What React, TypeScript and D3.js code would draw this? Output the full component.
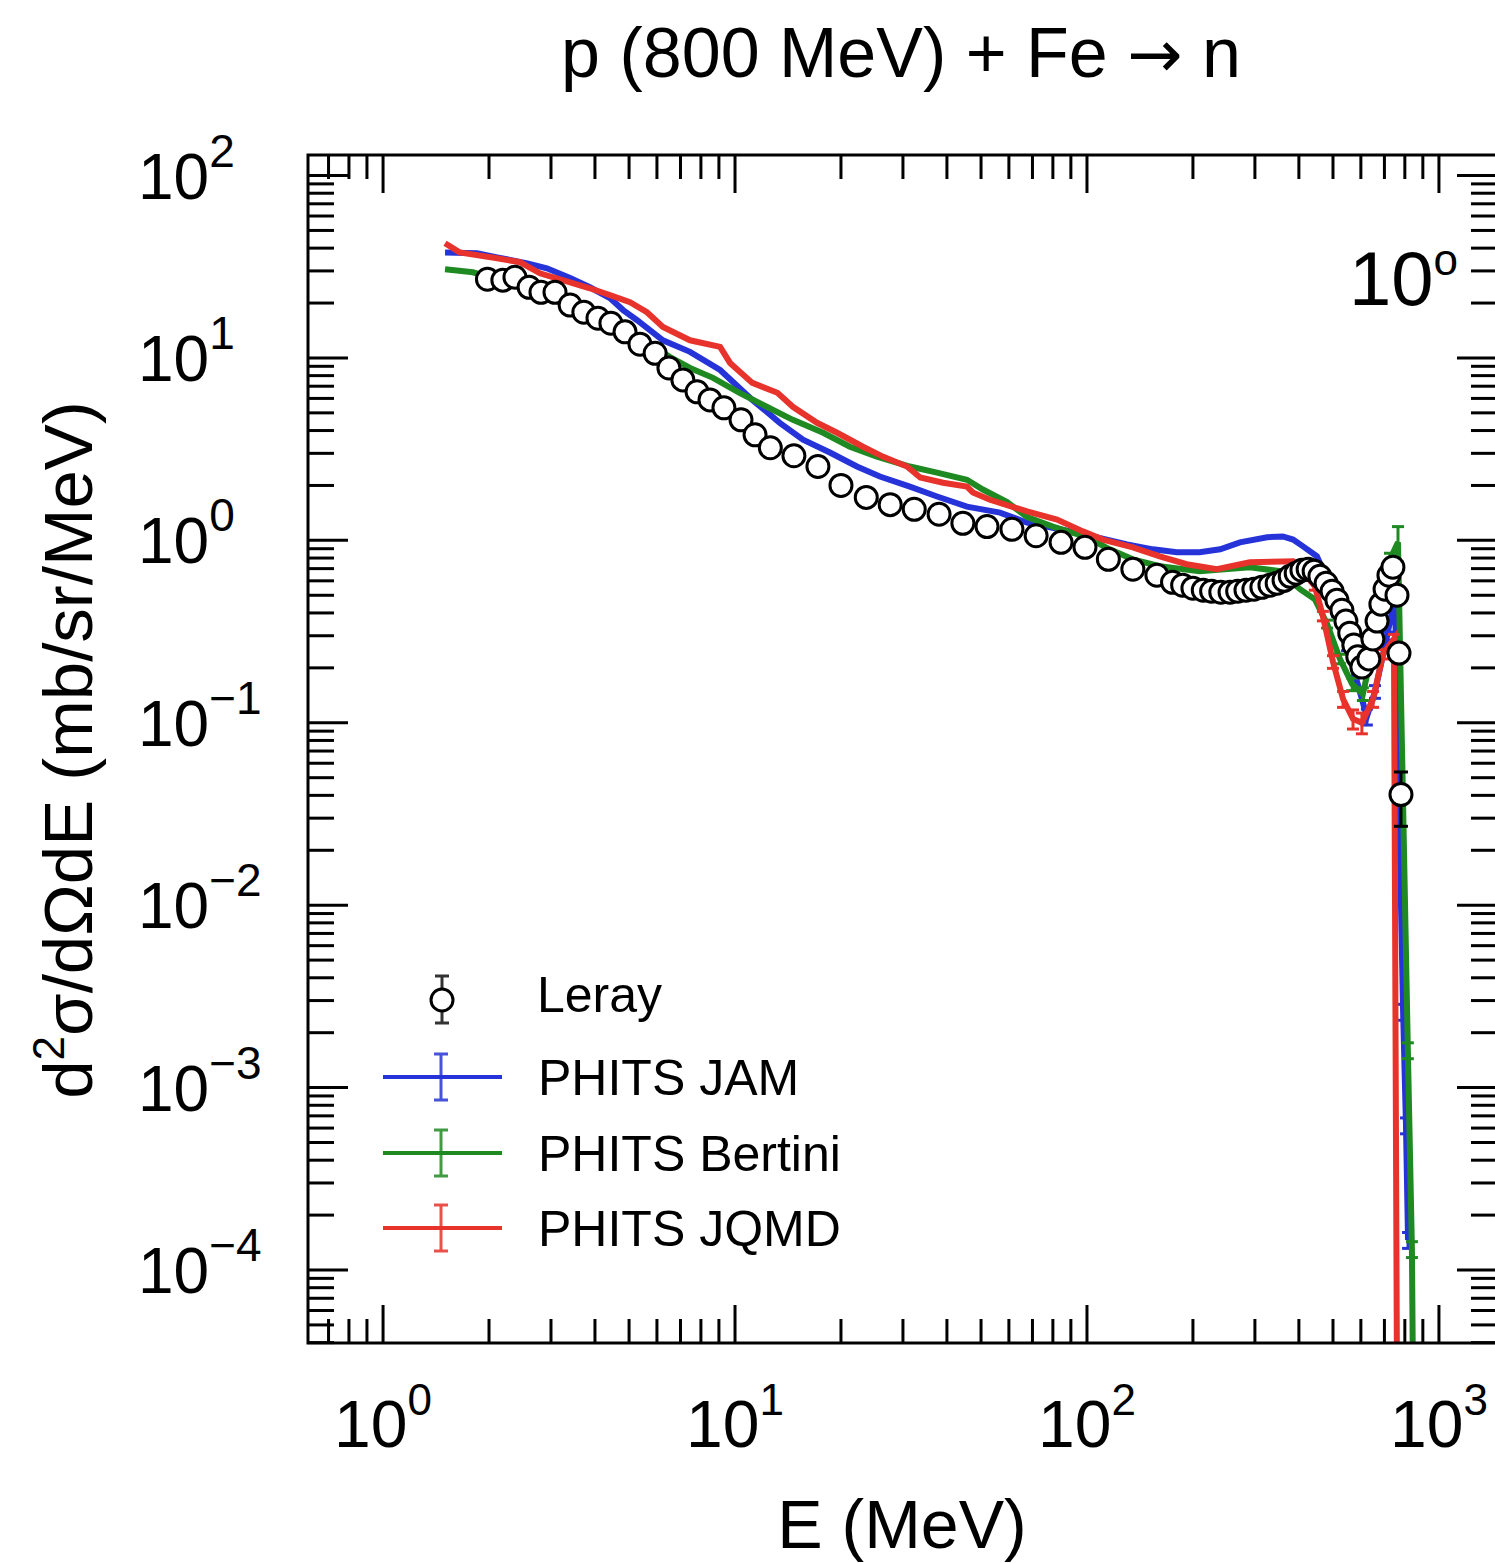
import React from "react";
import * as d3 from "d3";

// Leray data: [E (MeV), d2sigma/dOmega dE (mb/sr/MeV), relative error]
const leray: [number, number, number][] = [
  [1.98, 27.0, 0.05], [2.19, 26.7, 0.05], [2.37, 27.7, 0.05], [2.6, 24.4, 0.05],
  [2.81, 22.9, 0.05], [3.08, 22.9, 0.05], [3.4, 19.5, 0.05], [3.72, 17.8, 0.05],
  [4.08, 16.5, 0.05], [4.44, 15.5, 0.05], [4.87, 13.9, 0.05], [5.37, 11.9, 0.05],
  [5.93, 10.6, 0.05], [6.49, 8.81, 0.05], [7.11, 7.58, 0.05], [7.8, 6.52, 0.05],
  [8.49, 5.89, 0.05], [9.3, 5.33, 0.05], [10.4, 4.58, 0.05], [11.4, 3.79, 0.05],
  [12.6, 3.22, 0.05], [14.7, 2.91, 0.05], [17.2, 2.54, 0.05], [20.0, 2.0, 0.05],
  [23.6, 1.72, 0.05], [27.6, 1.57, 0.05], [32.3, 1.48, 0.05], [38.0, 1.39, 0.05],
  [44.4, 1.24, 0.05], [52.0, 1.19, 0.05], [61.2, 1.15, 0.05], [71.7, 1.06, 0.05],
  [84.4, 0.975, 0.05], [98.7, 0.916, 0.05], [115, 0.787, 0.05], [135, 0.695, 0.05],
  [158, 0.644, 0.05], [175, 0.589, 0.05], [187, 0.568, 0.05], [200, 0.547, 0.05],
  [214, 0.533, 0.05], [226, 0.526, 0.05], [240, 0.52, 0.05], [255, 0.52, 0.05],
  [268, 0.526, 0.05], [283, 0.533, 0.05], [298, 0.54, 0.05], [314, 0.553, 0.05],
  [331, 0.568, 0.05], [347, 0.582, 0.05], [363, 0.604, 0.05], [378, 0.635, 0.05],
  [393, 0.66, 0.05], [408, 0.686, 0.05], [425, 0.695, 0.05], [442, 0.678, 0.05],
  [459, 0.635, 0.05], [478, 0.582, 0.05], [497, 0.526, 0.05], [513, 0.47, 0.05],
  [530, 0.414, 0.05], [544, 0.361, 0.05], [558, 0.31, 0.05], [573, 0.267, 0.05],
  [588, 0.23, 0.05], [604, 0.202, 0.05], [632, 0.224, 0.05], [649, 0.288, 0.05],
  [667, 0.361, 0.05], [684, 0.447, 0.05], [703, 0.54, 0.05], [721, 0.644, 0.05],
  [740, 0.712, 0.05], [760, 0.5, 0.05], [770, 0.241, 0.06], [780, 0.0404, 0.33],
];

// PHITS JAM: [E, value, relative error]
const jam: [number, number, number][] = [
  [1.5, 37.9, 0.02], [1.85, 37.5, 0.02], [2.11, 35.6, 0.02], [2.57, 33.0, 0.02],
  [2.92, 31.0, 0.02], [3.4, 27.4, 0.02], [3.87, 24.4, 0.02], [4.41, 21.3, 0.02],
  [4.81, 18.3, 0.02], [5.27, 16.1, 0.02], [6.24, 12.5, 0.02], [7.45, 10.8, 0.02],
  [9.07, 8.59, 0.02], [11.2, 5.89, 0.02], [13.4, 4.41, 0.02], [15.6, 3.56, 0.02],
  [18.6, 3.03, 0.02], [22.2, 2.54, 0.02], [25.8, 2.24, 0.02], [31.4, 1.97, 0.02],
  [37.5, 1.74, 0.02], [45.6, 1.53, 0.02], [56.6, 1.42, 0.02], [67.6, 1.25, 0.02],
  [83.8, 1.15, 0.02], [104, 1.05, 0.02], [130, 0.951, 0.02], [154, 0.893, 0.02],
  [180, 0.86, 0.02], [209, 0.86, 0.02], [239, 0.893, 0.02], [272, 0.975, 0.02],
  [325, 1.04, 0.02], [360, 1.05, 0.02], [385, 1.01, 0.02], [411, 0.927, 0.03],
  [450, 0.818, 0.03], [481, 0.612, 0.04], [513, 0.404, 0.05], [548, 0.264, 0.06],
  [585, 0.168, 0.08], [624, 0.108, 0.1], [658, 0.148, 0.08], [712, 0.299, 0.05],
  [750, 0.489, 0.05], [791, 0.0026, 0.1], [806, 0.00062, 0.1], [817, 0.000146, 0.1],
];

// PHITS Bertini
const bertini: [number, number, number][] = [
  [1.5, 30.6, 0.02], [1.8, 29.5, 0.02], [2.15, 26.7, 0.02], [2.61, 24.1, 0.02],
  [3.4, 20.8, 0.02], [4.13, 17.8, 0.02], [4.93, 13.4, 0.02], [5.62, 12.1, 0.02],
  [6.54, 10.1, 0.02], [7.45, 8.81, 0.02], [8.66, 7.78, 0.02], [10.3, 6.44, 0.02],
  [12.3, 5.4, 0.02], [14.6, 4.58, 0.02], [17.8, 3.89, 0.02], [21.2, 3.26, 0.02],
  [25.3, 2.88, 0.02], [31.4, 2.54, 0.02], [37.5, 2.35, 0.02], [45.6, 2.15, 0.02],
  [50.6, 1.9, 0.02], [59.3, 1.62, 0.02], [67.6, 1.34, 0.02], [80.0, 1.19, 0.02],
  [100, 1.04, 0.02], [116, 0.893, 0.02], [135, 0.787, 0.02], [161, 0.721, 0.02],
  [209, 0.678, 0.02], [290, 0.712, 0.02], [353, 0.678, 0.03], [403, 0.54, 0.03],
  [444, 0.476, 0.04], [481, 0.348, 0.05], [523, 0.224, 0.06], [567, 0.163, 0.08],
  [608, 0.144, 0.08], [658, 0.288, 0.06], [726, 0.787, 0.08], [765, 0.975, 0.22],
  [816, 0.0016, 0.1], [838, 0.00013, 0.1], [855, 0.000001, 0],
];

// PHITS JQMD
const jqmd: [number, number, number][] = [
  [1.5, 42.5, 0.03], [1.65, 37.9, 0.03], [2.11, 35.2, 0.03], [2.45, 33.5, 0.03],
  [2.79, 29.1, 0.03], [3.4, 26.0, 0.03], [3.87, 24.1, 0.03], [4.41, 22.1, 0.03],
  [5.03, 20.2, 0.03], [5.62, 17.8, 0.03], [6.24, 14.8, 0.03], [7.45, 12.5, 0.03],
  [9.07, 11.5, 0.03], [9.68, 9.39, 0.03], [11.2, 7.3, 0.03], [13.2, 6.44, 0.03],
  [14.6, 5.4, 0.03], [17.1, 4.41, 0.03], [19.5, 3.89, 0.03], [23.1, 3.26, 0.03],
  [26.3, 2.88, 0.03], [30.8, 2.54, 0.03], [33.6, 2.21, 0.03], [39.0, 2.07, 0.03],
  [45.6, 1.97, 0.03], [47.4, 1.83, 0.03], [53.0, 1.67, 0.03], [67.6, 1.44, 0.03],
  [82.2, 1.3, 0.03], [97.4, 1.12, 0.03], [111, 1.01, 0.03], [135, 0.916, 0.03],
  [161, 0.818, 0.03], [192, 0.74, 0.03], [234, 0.695, 0.03], [290, 0.759, 0.03],
  [385, 0.768, 0.03], [421, 0.635, 0.04], [444, 0.561, 0.05], [468, 0.385, 0.06],
  [500, 0.216, 0.08], [534, 0.135, 0.1], [570, 0.105, 0.12], [604, 0.1, 0.13],
  [650, 0.135, 0.1], [694, 0.238, 0.06], [745, 0.288, 0.06], [765, 0.000001, 0],
];

const xMajorTicks = [1, 10, 100, 1000];
const xTickExponents = ["0", "1", "2", "3"];
const yMajorTicks = [1e-4, 1e-3, 1e-2, 1e-1, 1, 10, 100];
const yTickExponents = ["\u22124", "\u22123", "\u22122", "\u22121", "0", "1", "2"];

const series = [
  { name: "PHITS JAM", data: jam, color: "#2633d9" },
  { name: "PHITS Bertini", data: bertini, color: "#1f8a22" },
  { name: "PHITS JQMD", data: jqmd, color: "#e8332c" },
];

const W = 1495;
const H = 1563;
const left = 308, right = 1497, top = 155, bottom = 1343;
const font = "'Liberation Sans', Arial, Helvetica, sans-serif";

export default function App() {
  const x = d3.scaleLog().domain([0.612, 1462]).range([left, right]);
  const y = d3.scaleLog().domain([3.98e-5, 129.6]).range([bottom, top]);

  const line = d3
    .line<[number, number, number]>()
    .x((d) => x(d[0]))
    .y((d) => y(Math.max(d[1], 1e-7)));

  // minor ticks
  const xMinor: number[] = [];
  const yMinor: number[] = [];
  for (let k = -1; k <= 3; k++) {
    for (let m = 2; m <= 9; m++) {
      const v = m * Math.pow(10, k);
      if (v > 0.612 && v < 1462) xMinor.push(v);
    }
  }
  for (let k = -5; k <= 2; k++) {
    for (let m = 2; m <= 9; m++) {
      const v = m * Math.pow(10, k);
      if (v > 3.98e-5 && v < 129.6) yMinor.push(v);
    }
  }
  const maj = 38, min = 24;

  const errBar = (d: [number, number, number], color: string, key: string, cap: number, minErr: number) => {
    if (!d[2] || d[2] < minErr) return null;
    const cx = x(d[0]);
    const y1 = y(d[1] * (1 + d[2]));
    const y2 = y(Math.max(d[1] * (1 - d[2]), 1e-7));
    return (
      <g key={key} stroke={color} strokeWidth={3}>
        <line x1={cx} x2={cx} y1={y1} y2={y2} />
        <line x1={cx - cap} x2={cx + cap} y1={y1} y2={y1} />
        <line x1={cx - cap} x2={cx + cap} y1={y2} y2={y2} />
      </g>
    );
  };

  const legendRows = [
    { label: "PHITS JAM", color: series[0].color, ly: 1077 },
    { label: "PHITS Bertini", color: series[1].color, ly: 1153 },
    { label: "PHITS JQMD", color: series[2].color, ly: 1228 },
  ];

  return (
    <svg width={W} height={H} style={{ position: "absolute", left: 0, top: 0, background: "#fff" }} fontFamily={font}>
      <defs>
        <clipPath id="plotclip">
          <rect x={left} y={top} width={right - left} height={bottom - top} />
        </clipPath>
      </defs>
      <rect x={0} y={0} width={W} height={H} fill="#fff" />

      {/* title */}
      <text x={901} y={77} fontSize={70} textAnchor="middle">
        p (800 MeV) + Fe <tspan fontFamily="'DejaVu Sans', sans-serif" fontSize={66}>{"\u2192"}</tspan> n
      </text>

      {/* simulation curves */}
      <g clipPath="url(#plotclip)">
        {series.map((s) => (
          <g key={s.name}>
            <path d={line(s.data) || ""} fill="none" stroke={s.color} strokeWidth={6} strokeLinejoin="miter" />
            {s.data.map((d, i) => errBar(d, s.color, s.name + i, 6, 0.05))}
          </g>
        ))}
        {/* Leray data */}
        {leray.map((d, i) => errBar(d, "#000", "le" + i, 7, 0.05))}
        {leray.map((d, i) => (
          <circle key={"lc" + i} cx={x(d[0])} cy={y(d[1])} r={11} fill="#fff" stroke="#000" strokeWidth={3} />
        ))}
      </g>

      {/* frame */}
      <rect x={left} y={top} width={right - left} height={bottom - top} fill="none" stroke="#000" strokeWidth={3} />

      {/* ticks */}
      <g stroke="#000" strokeWidth={3}>
        {xMajorTicks.map((v) => (
          <g key={"xM" + v}>
            <line x1={x(v)} x2={x(v)} y1={bottom} y2={bottom - maj} />
            <line x1={x(v)} x2={x(v)} y1={top} y2={top + maj} />
          </g>
        ))}
        {xMinor.map((v) => (
          <g key={"xm" + v}>
            <line x1={x(v)} x2={x(v)} y1={bottom} y2={bottom - min} />
            <line x1={x(v)} x2={x(v)} y1={top} y2={top + min} />
          </g>
        ))}
        {yMajorTicks.map((v) => (
          <g key={"yM" + v}>
            <line x1={left} x2={left + maj + 2} y1={y(v)} y2={y(v)} />
            <line x1={right} x2={right - maj - 2} y1={y(v)} y2={y(v)} />
          </g>
        ))}
        {yMinor.map((v) => (
          <g key={"ym" + v}>
            <line x1={left} x2={left + min + 2} y1={y(v)} y2={y(v)} />
            <line x1={right} x2={right - min - 2} y1={y(v)} y2={y(v)} />
          </g>
        ))}
      </g>

      {/* x tick labels */}
      {xMajorTicks.map((v, i) => (
        <text key={"xl" + v} x={x(v)} y={1447} fontSize={66} textAnchor="middle">
          10
          <tspan dy={-32} fontSize={44}>
            {xTickExponents[i]}
          </tspan>
        </text>
      ))}

      {/* y tick labels */}
      {yMajorTicks.map((v, i) => (
        <text key={"yl" + v} x={138} y={y(v) + 23} fontSize={64} textAnchor="start">
          10
          <tspan dy={-32} fontSize={46}>
            {yTickExponents[i]}
          </tspan>
        </text>
      ))}

      {/* axis titles */}
      <text x={902} y={1548} fontSize={68} textAnchor="middle">
        E (MeV)
      </text>
      <text transform="translate(92,750) rotate(-90)" fontSize={69} textAnchor="middle">
        d
        <tspan dy={-28} fontSize={44}>
          2
        </tspan>
        <tspan dy={28}>{"\u03c3/d\u03a9dE (mb/sr/MeV)"}</tspan>
      </text>

      {/* angle label */}
      <text x={1458} y={305} fontSize={76} textAnchor="end">
        10
        <tspan dy={-30} fontSize={44}>
          o
        </tspan>
      </text>

      {/* legend */}
      <g>
        <g stroke="#333" strokeWidth={3}>
          <line x1={442} x2={442} y1={976} y2={1023} />
          <line x1={435} x2={449} y1={976} y2={976} />
          <line x1={435} x2={449} y1={1023} y2={1023} />
        </g>
        <circle cx={442} cy={1000} r={11} fill="#fff" stroke="#000" strokeWidth={3} />
        <text x={537} y={1012} fontSize={50}>
          Leray
        </text>
        {legendRows.map((r) => (
          <g key={r.label}>
            <line x1={383} x2={502} y1={r.ly} y2={r.ly} stroke={r.color} strokeWidth={4} />
            <g stroke={r.color} strokeWidth={3} opacity={0.85}>
              <line x1={441} x2={441} y1={r.ly - 23} y2={r.ly + 23} />
              <line x1={434} x2={448} y1={r.ly - 23} y2={r.ly - 23} />
              <line x1={434} x2={448} y1={r.ly + 23} y2={r.ly + 23} />
            </g>
            <text x={538} y={r.ly + 18} fontSize={50}>
              {r.label}
            </text>
          </g>
        ))}
      </g>
    </svg>
  );
}
